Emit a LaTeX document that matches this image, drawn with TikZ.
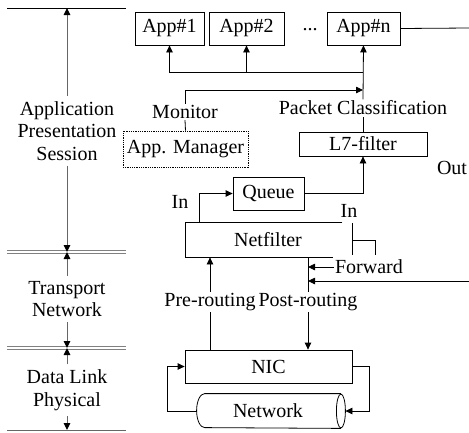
\documentclass[tikz,border=0pt]{standalone}
\usepackage{fontspec}
\setmainfont{Liberation Serif}
\usetikzlibrary{arrows.meta,calc}
\begin{document}
\begin{tikzpicture}[x=1pt,y=-1pt,
  font=\fontsize{20}{22.5}\selectfont,
  line width=0.8pt,
  arr/.style={-{Triangle[length=7pt,width=6.5pt]}},
  garr/.style={-{Triangle[length=7pt,width=6.5pt,color=black]}},
  box/.style={draw,inner sep=0pt,minimum height=33pt},
  lbl/.style={inner sep=1pt},
  layer/.style={align=center,inner xsep=0pt,inner ysep=5pt},
  gline/.style={draw=black!60,line width=1pt},
  dline/.style={draw=black!50,double=white,double distance=1.4pt,line width=0.9pt},
  dotbox/.style={draw,line width=0.7pt,dash pattern=on 0.9pt off 0.9pt}
]
\useasboundingbox (0,0) rectangle (469,432);

% ---------- left: layers ----------
\coordinate (t0l) at (7,8);   \coordinate (t0r) at (126,8);   \coordinate (t0m) at (67,8);
\coordinate (d1l) at (7,252); \coordinate (d1r) at (126,252); \coordinate (d1m) at (67,252);
\coordinate (d2l) at (7,348); \coordinate (d2r) at (126,348); \coordinate (d2m) at (67,348);
\coordinate (b0l) at (7,430); \coordinate (b0r) at (126,430); \coordinate (b0m) at (67,430);

\draw[line width=0.9pt] (t0l) -- (t0r);
\draw[dline] (d1l) -- (d1r);
\draw[dline] (d2l) -- (d2r);
\draw[gline] (b0l) -- (b0r);

\node[layer] (L1) at (67,131) {Application\\Presentation\\Session};
\node[layer] (L2) at (67,299) {Transport\\Network};
\node[layer] (L3) at (67,390) {Data Link\\Physical};

\draw[gline,garr] (L1.north) -- (t0m);
\draw[gline,garr] (L1.south) -- (d1m);
\draw[gline,garr] (L2.north) -- (d1m);
\draw[gline,garr] (L2.south) -- (d2m);
\draw[gline,garr] (L3.north) -- (d2m);
\draw[gline,garr] (L3.south) -- (b0m);

% ---------- right: boxes ----------
\node[box,minimum width=69pt] (app1) at (169.5,28.5) {App\#1};
\node[box,minimum width=75pt] (app2) at (246.5,28.5) {App\#2};
\node[lbl] (dots) at (310,30) {...};
\node[box,minimum width=73pt] (appn) at (363.5,28.5) {App\#n};

\node[box,dotbox,minimum width=125pt,minimum height=36pt] (appman) at (185.5,149) {App. Manager};
\node[box,minimum width=128pt,minimum height=24pt] (l7) at (363,144) {L7-filter};
\node[box,minimum width=71pt] (queue) at (268.5,193.5) {Queue};
\node[inner sep=0pt,minimum width=156pt,minimum height=34pt] (nf) at (264,240) {};
\node[lbl] (nftext) at (268,240) {Netfilter};
\node[box,minimum width=167pt] (nic) at (268.5,366.5) {NIC};
\node[inner sep=0pt,minimum width=148pt,minimum height=34pt] (net) at (271,411) {};
\node[lbl] (nettext) at (268,411) {Network};

% cylinder outline of Network
\draw ($(net.north east)+(-4.5,0)$) -- ($(net.north west)+(8,0)$)
      arc[start angle=270,end angle=90,x radius=8,y radius=17]
      -- ($(net.south east)+(-4.5,0)$);
\draw ($(net.east)+(-4.5,0)$) ellipse [x radius=4.5,y radius=17];

% labels
\node[lbl] (mon) at (185,112) {Monitor};
\node[lbl] (pc) at (363,108) {Packet Classification};
\node[lbl] (out) at (452,168) {Out};
\node[lbl] (inR) at (349,211) {In};
\node[lbl] (inL) at (180,202) {In};
\node[lbl] (pre) at (210,302) {Pre-routing};
\node[lbl] (post) at (308,302) {Post-routing};
\node[lbl] (fwd) at (369,267) {Forward};

% Netfilter open box
\draw (nf.north east) -- (nf.north west) -- (nf.south west) -- ($(nf.south east)+(-9,0)$);
% hook at the right of Netfilter
\coordinate (hk1) at (352,223);
\coordinate (hk2) at (352,255);
\coordinate (hk3) at (352,240);
\coordinate (hk4) at (375,240);
\coordinate (hk5) at (375,255);
\draw (hk1) -- (hk2);
\draw (hk3) -- (hk4) -- (hk5);

% ---------- connectors ----------
\coordinate (jn) at (363,90);
\coordinate (bus) at (363,72);
\draw (appman.north) -- (mon.south);
\draw[arr] (mon.north) |- (jn);
\draw (l7.north) -- (pc.south);
\draw[arr] (pc.north) -- (appn.south);
\draw[arr] (bus) -| (app1.south);
\draw[arr] (app2.south |- bus) -- (app2.south);

\coordinate (redge1) at (469,28);
\draw (appn.east) -- (redge1);

\draw[arr] (queue.east) -| (l7.south);
\coordinate (nfq) at (199,223);
\draw[arr] (nfq) |- (queue.west);

\draw[arr] (pre.north) -- (pre.north |- nf.south);
\draw (pre.south) -- (pre.south |- nic.north);
\draw (post.north |- nf.south) -- (post.north);
\draw[arr] (post.south) -- (post.south |- nic.north);

\draw[arr] (fwd.west) -- (fwd.west -| post.north);
\coordinate (redge2) at (469,281);
\draw[arr] (redge2) -- (redge2 -| post.north);

\draw[arr] (nic.east) -- ++(17,0) |- (net.east);
\draw[arr] (net.west) -- ++(-29,0) |- (nic.west);
\end{tikzpicture}
\end{document}
